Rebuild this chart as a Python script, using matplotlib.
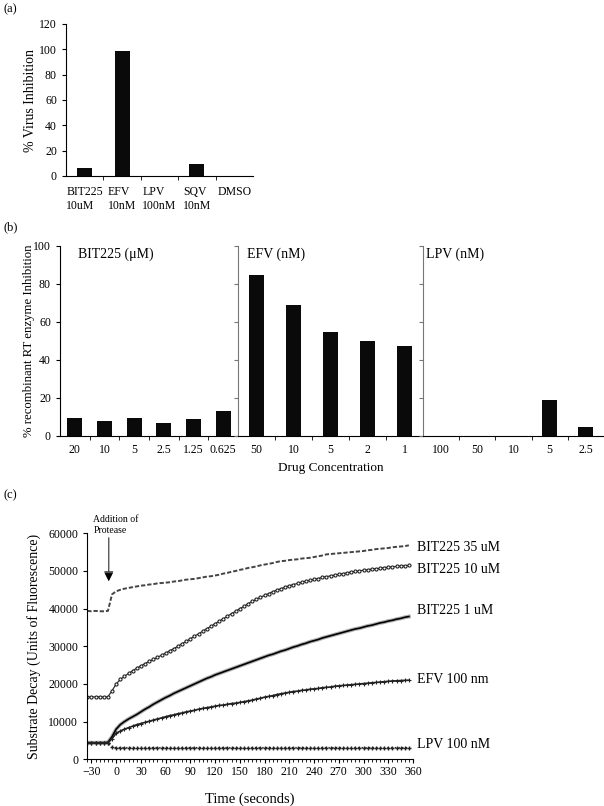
import numpy as np
import matplotlib
matplotlib.use('Agg')
import matplotlib.pyplot as plt
from matplotlib.ticker import MultipleLocator

plt.rcParams['font.family'] = ['Liberation Serif', 'DejaVu Serif']
plt.rcParams['font.size'] = 8

# ---- panel (a) data ----
a_labels = ['BIT225\n10uM', 'EFV\n10nM', 'LPV\n100nM', 'SQV\n10nM', 'DMSO']
a_values = [6, 99, 0, 9.5, 0]

# ---- panel (b) data ----
bit_conc = ['20', '10', '5', '2.5', '1.25', '0.625']
bit_vals = [9.5, 8, 9.5, 7, 9, 13]
efv_conc = ['50', '10', '5', '2', '1']
efv_vals = [85, 69, 54.5, 50, 47.5]
lpv_conc = ['100', '50', '10', '5', '2.5']
lpv_vals = [0, 0, 0, 19, 5]

# ---- panel (c) data, one reading every 5 s from -35 s ----
time_s = np.arange(-35, 360, 5)
bit35 = [39400, 39300, 39400, 39300, 39300, 39400,
         43800, 44600, 45000, 45300, 45500, 45700, 45900, 46100, 46200, 46400,
         46500, 46700, 46800, 46900, 47000, 47200, 47300, 47500, 47700, 47800,
         47900, 48100, 48300, 48500, 48600, 48800, 49000, 49300, 49500, 49800,
         50000, 50300, 50500, 50800, 51000, 51200, 51500, 51700, 51900, 52100,
         52400, 52600, 52700, 52900, 53000, 53100, 53300, 53400, 53500, 53700,
         53900, 54100, 54400, 54500, 54600, 54700, 54800, 54900, 55000, 55100,
         55200, 55300, 55500, 55600, 55800, 55900, 56000, 56100, 56300, 56400,
         56500, 56600, 56800]
bit10 = [16600, 16500, 16600, 16600, 16500, 16600,
         18200, 20000, 21200, 22000, 22800, 23500, 24200, 24800, 25400, 26000,
         26500, 27100, 27600, 28200, 28800, 29400, 30000, 30700, 31300, 32000,
         32700, 33300, 34000, 34700, 35300, 36000, 36700, 37300, 38000, 38700,
         39300, 40000, 40600, 41300, 41900, 42500, 43000, 43500, 44000, 44500,
         44900, 45300, 45700, 46100, 46400, 46700, 47000, 47300, 47500, 47800,
         48000, 48300, 48500, 48700, 48900, 49100, 49300, 49500, 49700, 49900,
         50000, 50200, 50300, 50500, 50600, 50700, 50900, 51000, 51100, 51200,
         51300, 51400, 51500]
bit1 = [4400, 4400, 4400, 4400, 4400, 4500,
        6000, 8000, 9200, 10000, 10700, 11300, 11900, 12600, 13300, 13900,
        14600, 15200, 15800, 16400, 16900, 17500, 18000, 18500, 19000, 19500,
        20000, 20500, 21000, 21500, 21900, 22400, 22800, 23200, 23600, 24000,
        24400, 24800, 25200, 25600, 26000, 26400, 26800, 27200, 27600, 27900,
        28300, 28700, 29000, 29400, 29800, 30100, 30500, 30800, 31200, 31500,
        31800, 32200, 32500, 32800, 33100, 33400, 33700, 34000, 34300, 34600,
        34800, 35100, 35400, 35600, 35900, 36200, 36400, 36700, 36900, 37200,
        37400, 37700, 37900]
efv100 = [4400, 4400, 4400, 4400, 4400, 4400,
          5500, 6900, 7500, 8000, 8400, 8800, 9200, 9500, 9800, 10100,
          10400, 10700, 11000, 11300, 11600, 11800, 12100, 12300, 12600, 12800,
          13000, 13300, 13500, 13700, 13900, 14100, 14300, 14400, 14600, 14800,
          14900, 15100, 15300, 15500, 15700, 16000, 16200, 16500, 16700, 16900,
          17200, 17400, 17600, 17800, 18000, 18100, 18300, 18400, 18600, 18700,
          18800, 19000, 19100, 19200, 19400, 19500, 19600, 19700, 19800, 19900,
          20000, 20100, 20200, 20300, 20400, 20500, 20600, 20700, 20800, 20850,
          20900, 20950, 21000]
lpv100 = [4300, 4300, 4300, 4300, 4300, 4300,
          3200, 3100, 3100, 3100, 3100, 3100, 3100, 3100, 3100, 3100,
          3100, 3100, 3100, 3100, 3100, 3100, 3100, 3100, 3100, 3100,
          3100, 3100, 3100, 3100, 3100, 3100, 3100, 3100, 3100, 3100,
          3100, 3100, 3100, 3100, 3100, 3100, 3100, 3100, 3100, 3100,
          3100, 3100, 3100, 3100, 3100, 3100, 3100, 3100, 3100, 3100,
          3100, 3100, 3100, 3100, 3100, 3100, 3100, 3100, 3100, 3100,
          3100, 3100, 3100, 3100, 3100, 3100, 3100, 3100, 3100, 3100,
          3100, 3100, 3100]
series_names = ['BIT225 35 uM', 'BIT225 10 uM', 'BIT225 1 uM', 'EFV 100 nm', 'LPV 100 nM']
label_y = [56100, 50500, 39400, 21300, 3800]

W, H = 604, 806
fig = plt.figure(figsize=(W / 100, H / 100), dpi=100)


def box(left, top, right, bottom):
    return [left / W, 1 - bottom / H, (right - left) / W, (bottom - top) / H]


def clean(ax):
    ax.spines['top'].set_visible(False)
    ax.spines['right'].set_visible(False)
    ax.tick_params(direction='out', length=3, width=0.8, labelsize=8.5)


# ================= (a) =================
ax_a = fig.add_axes(box(66, 24, 253, 176))
clean(ax_a)
xa = np.arange(len(a_values))
ax_a.bar(xa, a_values, width=0.4, color='#0a0a0a')
ax_a.set_xlim(-0.5, len(a_values) - 0.5)
ax_a.set_ylim(0, 120)
ax_a.yaxis.set_major_locator(MultipleLocator(20))
ax_a.set_xticks(xa)
ax_a.set_xticklabels(a_labels, multialignment='left', linespacing=1.2)
ax_a.tick_params(axis='x', length=0, pad=7)
ax_a.set_xticks(np.arange(0.5, len(a_values) - 1, 1), minor=True)
ax_a.tick_params(axis='x', which='minor', length=3, direction='out')
ax_a.set_ylabel('% Virus Inhibition', fontsize=10)
ax_a.yaxis.set_label_coords((37 - 66) / 187, 0.5)
fig.text(3 / W, 1 - 9 / H, '(a)', fontsize=9, va='center')

# ================= (b) =================
sub = [(60, 238, bit_conc, bit_vals, 0.5, 'BIT225 (\u03bcM)', 0.1, 'black'),
       (238, 423, efv_conc, efv_vals, 0.4, 'EFV (nM)', 0.05, '#777777'),
       (423, 604, lpv_conc, lpv_vals, 0.41, 'LPV (nM)', 0.015, '#777777')]
axes_b = []
for i, (l, r, conc, vals, bw, title, tx, spc) in enumerate(sub):
    ax = fig.add_axes(box(l, 246, r, 436))
    clean(ax)
    x = np.arange(len(vals))
    ax.bar(x, vals, width=bw, color='#0a0a0a')
    ax.set_xlim(-0.5, len(vals) - 0.5)
    ax.set_ylim(0, 100)
    ax.yaxis.set_major_locator(MultipleLocator(20))
    ax.set_xticks(x)
    ax.set_xticklabels(conc)
    ax.tick_params(axis='x', length=0, pad=6)
    ax.set_xticks(np.arange(0.5, len(vals) - 1, 1), minor=True)
    ax.tick_params(axis='x', which='minor', length=3, direction='out')
    ax.spines['left'].set_color(spc)
    ax.text(tx, 0.955, title, transform=ax.transAxes,
            fontsize=10, va='center', ha='left')
    if i > 0:
        ax.set_yticklabels([])
        ax.tick_params(axis='y', color=spc)
    axes_b.append(ax)
axes_b[0].set_ylabel('% recombinant RT enzyme Inhibition', fontsize=9.2)
axes_b[0].yaxis.set_label_coords((35 - 60) / 178, 0.5)
axes_b[1].set_xlabel('Drug Concentration', fontsize=9.5, labelpad=4)
fig.text(3 / W, 1 - 227 / H, '(b)', fontsize=9, va='center')

# ================= (c) =================
ax_c = fig.add_axes(box(87.3, 533.3, 413, 759.3))
clean(ax_c)
ax_c.plot(time_s, bit35, ls='--', dashes=(2.2, 1.0), color='#444444', lw=1.4)
ax_c.plot(time_s, bit10, ls='-', color='#333333', lw=0.9, marker='o', ms=2.2,
          mfc='white', mec='#222222', mew=0.8)
ax_c.plot(time_s, bit1, ls='-', color='#b0b0b0', lw=2.8)
ax_c.plot(time_s, bit1, ls='-', color='black', lw=1.2)
ax_c.plot(time_s, efv100, ls='-', color='#222222', lw=1.2, marker='+', ms=3, mew=0.8)
ax_c.plot(time_s, lpv100, ls=':', color='#222222', lw=1.0, marker='+', ms=3.5, mew=1.0)
ax_c.set_xlim(-35, 360)
ax_c.set_ylim(0, 60000)
ax_c.xaxis.set_major_locator(MultipleLocator(30))
ax_c.xaxis.set_minor_locator(MultipleLocator(5))
ax_c.yaxis.set_major_locator(MultipleLocator(10000))
ax_c.tick_params(axis='x', which='minor', length=2, width=0.6)
ax_c.tick_params(axis='x', pad=2)
for name, yv in zip(series_names, label_y):
    ax_c.text(365, yv, name, fontsize=10, va='center', ha='left', clip_on=False)
ax_c.annotate('', xy=(-9, 47300), xytext=(-9, 58800),
              arrowprops=dict(arrowstyle='-|>,head_length=0.7,head_width=0.35',
                              color='#555555', lw=1.0, shrinkA=0, shrinkB=0),
              annotation_clip=False)
ax_c.annotate('', xy=(-9, 47300), xytext=(-9, 50200),
              arrowprops=dict(arrowstyle='-|>,head_length=0.7,head_width=0.35',
                              color='black', lw=0.1, shrinkA=0, shrinkB=0),
              annotation_clip=False)
ax_c.text(-27.5, 62300, 'Addition of\nProtease', fontsize=7, ha='left', va='center',
          multialignment='left', linespacing=1.3, clip_on=False)
ax_c.set_ylabel('Substrate Decay (Units of Fluorescence)', fontsize=10, labelpad=5)
ax_c.set_xlabel('Time (seconds)', fontsize=10.5, labelpad=10)
fig.text(3 / W, 1 - 495 / H, '(c)', fontsize=9, va='center')

fig.savefig('out.png', dpi=100)
